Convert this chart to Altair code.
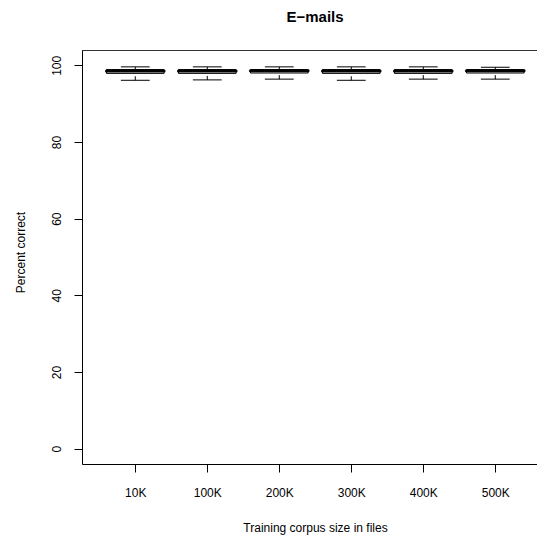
import altair as alt
import pandas as pd

categories = ["10K", "100K", "200K", "300K", "400K", "500K"]
lower_whisker = [96.1, 96.2, 96.4, 96.1, 96.4, 96.4]
q1 = [97.9, 97.9, 98.0, 97.9, 97.9, 98.0]
median = [98.5, 98.5, 98.6, 98.5, 98.5, 98.6]
q3 = [98.9, 98.9, 98.9, 98.9, 98.9, 98.9]
upper_whisker = [99.6, 99.6, 99.6, 99.6, 99.6, 99.5]
y_ticks = [0, 20, 40, 60, 80, 100]

df = pd.DataFrame({
    "pos": list(range(1, len(categories) + 1)),
    "cat": categories,
    "lo": lower_whisker,
    "q1": q1,
    "med": median,
    "q3": q3,
    "hi": upper_whisker,
})

W = 455
H = 414
PX_PER_UNIT = 72
x0 = 0.26
x1 = x0 + W / PX_PER_UNIT
FONT = "Liberation Sans"

label_expr = "[" + ",".join("'%s'" % c for c in categories) + "][datum.value - 1]"

xscale = alt.Scale(domain=[x0, x1], nice=False, zero=False)
yscale = alt.Scale(domain=[-4, 104], nice=False, zero=False)

xaxis = alt.Axis(
    values=list(range(1, len(categories) + 1)),
    labelExpr=label_expr,
    title="Training corpus size in files",
    grid=False,
    domainColor="black",
    tickColor="black",
    tickSize=8,
    labelPadding=15,
    labelFont=FONT,
    labelFontSize=12,
    labelColor="black",
    titleFont=FONT,
    titleFontSize=12,
    titleFontWeight="normal",
    titleColor="black",
    titleX=233,
    titleY=63,
    titleBaseline="middle",
    titleAnchor="middle",
)
yaxis = alt.Axis(
    values=y_ticks,
    title="Percent correct",
    grid=False,
    domainColor="black",
    tickColor="black",
    tickSize=8,
    labelAngle=270,
    labelAlign="center",
    labelBaseline="bottom",
    labelPadding=11,
    labelFont=FONT,
    labelFontSize=12,
    labelColor="black",
    titleFont=FONT,
    titleFontSize=12,
    titleFontWeight="normal",
    titleColor="black",
    titleX=-62,
    titleY=202,
    titleBaseline="middle",
    titleAngle=270,
)

base = alt.Chart(df).transform_calculate(
    xl="datum.pos - 0.4",
    xr="datum.pos + 0.4",
    sl="datum.pos - 0.2",
    sr="datum.pos + 0.2",
)

upper_w = base.mark_rule(color="black", strokeWidth=1, strokeDash=[4, 4]).encode(
    x=alt.X("pos:Q", scale=xscale, axis=xaxis),
    y=alt.Y("q3:Q", scale=yscale, axis=yaxis),
    y2="hi:Q",
)
lower_w = base.mark_rule(color="black", strokeWidth=1, strokeDash=[4, 4]).encode(
    x="pos:Q", y="lo:Q", y2="q1:Q"
)
staple_hi = base.mark_rule(color="black", strokeWidth=1).encode(
    x="sl:Q", x2="sr:Q", y="hi:Q"
)
staple_lo = base.mark_rule(color="black", strokeWidth=1).encode(
    x="sl:Q", x2="sr:Q", y="lo:Q"
)
box = base.mark_rect(fill="white", stroke="black", strokeWidth=1).encode(
    x="xl:Q", x2="xr:Q", y="q1:Q", y2="q3:Q"
)
med = base.mark_rule(color="black", strokeWidth=3, strokeCap="round").encode(
    x="xl:Q", x2="xr:Q", y="med:Q"
)
top_border = alt.Chart(df).mark_rule(color="#333333", strokeWidth=1).encode(
    x=alt.value(0), x2=alt.value(W), y=alt.value(0.5)
)

chart = alt.layer(
    upper_w, lower_w, staple_hi, staple_lo, box, med, top_border
).properties(
    width=W,
    height=H,
    autosize=alt.AutoSizeParams(type="none"),
    padding={"left": 74, "top": 42, "right": 0, "bottom": 72},
    title=alt.TitleParams(
        "E\u2212mails",
        font=FONT,
        fontSize=15,
        fontWeight="bold",
        color="black",
        anchor="middle",
        frame="group",
        dx=5.5,
        offset=13,
        baseline="alphabetic",
    ),
).configure_view(stroke=None).configure(background="white")

chart.save("out.html", embed_options={"renderer": "svg", "actions": False})
